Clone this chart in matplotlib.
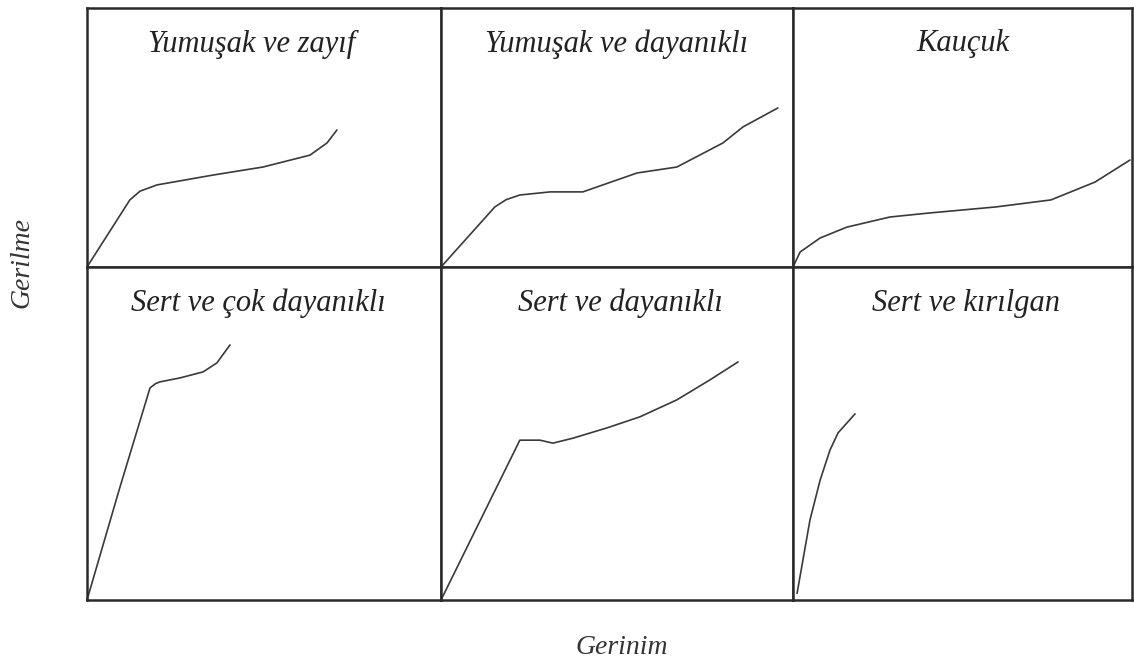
import matplotlib
matplotlib.use("Agg")
import matplotlib.pyplot as plt

# Panel titles (polymer behaviour classes), row by row
titles = [
    "Yumuşak ve zayıf", "Yumuşak ve dayanıklı", "Kauçuk",
    "Sert ve çok dayanıklı", "Sert ve dayanıklı", "Sert ve kırılgan",
]

# Stress-strain curves, strain and stress in % of each panel's range
strain_soft_weak = [0.0, 12.1, 15.0, 19.8, 35.6, 49.7, 63.0, 67.8, 70.6]
stress_soft_weak = [0.0, 25.9, 29.3, 31.7, 35.5, 38.6, 43.2, 47.9, 52.9]

strain_soft_tough = [0.0, 15.3, 18.5, 22.4, 31.0, 40.3, 55.7, 67.0, 80.1, 85.8, 95.7]
stress_soft_tough = [0.0, 23.2, 26.0, 27.8, 29.0, 29.0, 36.3, 38.6, 47.9, 54.1, 61.4]

strain_rubber = [0.0, 2.1, 8.0, 15.9, 28.6, 39.8, 59.9, 76.1, 89.1, 99.4]
stress_rubber = [0.0, 5.8, 11.2, 15.4, 19.3, 20.8, 23.2, 25.9, 32.8, 41.3]

strain_hard_very_tough = [0.0, 9.2, 17.8, 19.4, 20.6, 26.3, 32.8, 36.7, 40.4]
stress_hard_very_tough = [0.0, 33.5, 63.7, 65.0, 65.5, 66.7, 68.5, 71.2, 76.6]

strain_hard_tough = [0.0, 22.4, 28.1, 31.8, 37.5, 47.2, 56.5, 67.0, 76.4, 84.4]
stress_hard_tough = [0.0, 48.0, 48.0, 47.1, 48.6, 51.7, 55.0, 60.1, 66.1, 71.5]

strain_hard_brittle = [1.2, 5.0, 8.0, 10.9, 13.3, 18.3]
stress_hard_brittle = [2.0, 24.0, 36.0, 45.0, 50.2, 55.9]

curves = [
    (strain_soft_weak, stress_soft_weak),
    (strain_soft_tough, stress_soft_tough),
    (strain_rubber, stress_rubber),
    (strain_hard_very_tough, stress_hard_very_tough),
    (strain_hard_tough, stress_hard_tough),
    (strain_hard_brittle, stress_hard_brittle),
]

W, H = 1134, 666
fig = plt.figure(figsize=(W / 100, H / 100), dpi=100)
fig.patch.set_facecolor("white")

col_edges = [87, 441, 793, 1132]
row_edges = [8, 267, 600]
title_offsets = [-12, 0, 0, -6, 3, 4]  # horizontal nudge of titles, px

line_col = "#2a2a2a"
title_font = dict(family="Liberation Serif", style="italic", size=22, color="#222222")

for i, (title, (sx, sy)) in enumerate(zip(titles, curves)):
    r, c = divmod(i, 3)
    x0, x1 = col_edges[c], col_edges[c + 1]
    y0, y1 = row_edges[r], row_edges[r + 1]
    ax = fig.add_axes([x0 / W, 1 - y1 / H, (x1 - x0) / W, (y1 - y0) / H])
    ax.set_xlim(0, 100)
    ax.set_ylim(0, 100)
    ax.set_xticks([])
    ax.set_yticks([])
    for sp in ax.spines.values():
        sp.set_linewidth(1.8)
        sp.set_color(line_col)
    ax.plot(sx, sy, color="#3a3a3a", linewidth=1.2, clip_on=False,
            solid_capstyle="round", solid_joinstyle="round")
    ax.text(0.5 + title_offsets[i] / (x1 - x0), 1 - 36 / (y1 - y0), title,
            transform=ax.transAxes, ha="center", va="center", **title_font)

fig.text(22 / W, 1 - 262 / H, "Gerilme", rotation=90, ha="center", va="center",
         family="Liberation Serif", style="italic", size=20, color="#333333")
fig.text(622 / W, 1 - 648 / H, "Gerinim", ha="center", va="center",
         family="Liberation Serif", style="italic", size=20, color="#333333")

fig.savefig("out.png", dpi=100, facecolor="white")
